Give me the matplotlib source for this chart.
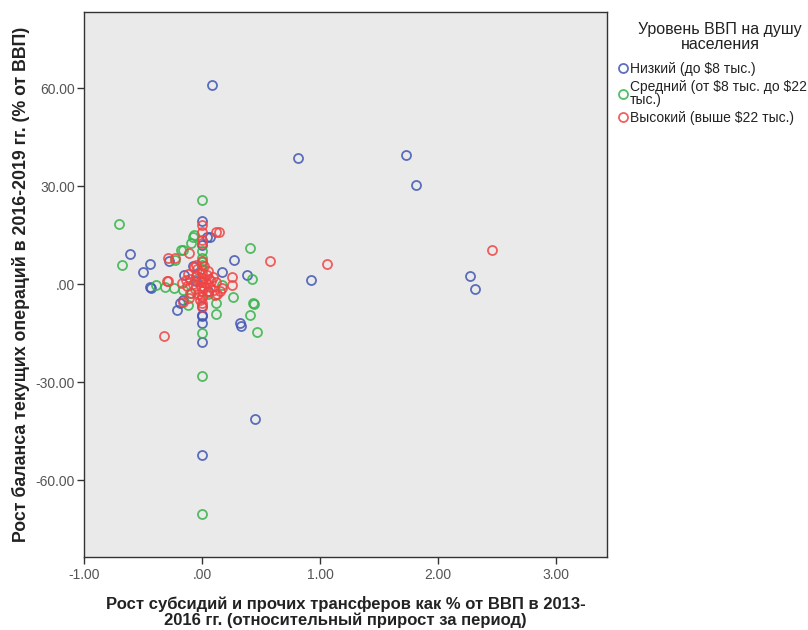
import matplotlib.pyplot as plt
from matplotlib.ticker import FuncFormatter, FixedLocator

plt.rcParams['font.family'] = ['Liberation Sans', 'DejaVu Sans']

# Data: (subsidy growth, current account balance growth)
low_x = [0.085, 0.81, 1.73, 1.81, 2.27, 2.31, 0.92, -0.61, -0.445, -0.50, -0.43, 0.27,
         0.0, 0.045, 0.17, 0.385, -0.28, -0.21, 0.33, 0.0, 0.0, 0.0, 0.45, 0.0,
         -0.15, -0.08, 0.0, -0.19, -0.16, 0.07, 0.0, 0.32, -0.44, 0.05, -0.05, 0.0]
low_y = [60.9, 38.7, 39.5, 30.2, 2.6, -1.5, 1.2, 9.1, 6.3, 3.6, -1.2, 7.4,
         19.3, 14.3, 3.6, 2.8, 7.0, -7.8, -12.7, -9.9, -12.0, -17.7, -41.4, -52.3,
         2.8, 5.6, -6.7, -5.8, -4.9, 14.5, 12.0, -12.0, -0.8, -2.0, 1.0, -9.5]

mid_x = [0.0, -0.70, -0.68, 0.41, 0.42, -0.08, -0.09, -0.18, 0.26, 0.12, 0.12, 0.44,
         0.41, 0.465, 0.0, 0.0, 0.0, -0.39, -0.31, -0.24, -0.16, -0.23, 0.0, 0.0,
         0.0, 0.0, -0.16, 0.17, -0.07, 0.0, -0.10, 0.43, -0.12, 0.05, -0.04]
mid_y = [25.8, 18.4, 6.0, 11.0, 1.7, 14.5, 12.5, 10.5, -4.0, -5.9, -9.0, -6.2,
         -9.4, -14.7, -15.1, -28.1, -70.5, -0.3, -1.0, -1.3, 10.4, 7.5, 8.0, 6.0,
         4.5, 10.0, -1.8, -0.3, 15.0, 6.7, -2.8, -5.8, -6.5, -3.0, 1.5]

high_x = [0.12, 0.58, 1.06, 2.46, -0.11, -0.29, -0.23, -0.32, -0.29, -0.17, 0.25, 0.25,
          0.15, 0.13, -0.16, 0.0, 0.0, 0.0, -0.30, 0.14, 0.0, -0.05, 0.17, 0.11,
          0.0, 0.0,
          -0.12, -0.10, -0.08, -0.06, -0.05, -0.04, -0.03, -0.02, -0.01, 0.0, 0.0, 0.0,
          0.0, 0.0, 0.01, 0.02, 0.03, 0.04, 0.05, 0.06, 0.07, 0.08, 0.10, -0.09, -0.13,
          -0.07, 0.02, -0.02, 0.05, 0.09, -0.11, 0.0, 0.0, 0.12, -0.14]
high_y = [15.9, 7.0, 6.3, 10.3, 9.5, 8.1, 8.1, -15.8, 1.0, 0.2, 2.2, -0.4,
          -2.0, -3.0, -5.4, 18.0, 16.0, 12.5, 0.9, 16.0, 13.5, 5.8, -1.3, -3.4,
          -5.9, -3.6,
          3.0, 1.5, 0.0, -1.5, 2.5, 4.5, -3.0, 1.0, -0.5, 0.5, 2.0, -2.0,
          3.5, -4.0, 1.2, -1.0, 0.3, 2.8, -2.5, 1.6, -0.8, 0.9, -1.8, -2.6, -0.7,
          5.2, 5.5, -5.0, 4.0, 2.2, -4.2, 7.0, -7.0, 0.5, 1.2]

labels = ['Низкий (до \\$8 тыс.)',
          'Средний (от \\$8 тыс. до \\$22\nтыс.)',
          'Высокий (выше \\$22 тыс.)']
colors = ['#4157b3', '#36b44a', '#f04444']

fig = plt.figure(figsize=(8.08, 6.3), dpi=100)
ax = fig.add_axes([0.104, 0.116, 0.647, 0.865])
ax.set_facecolor('#eaeaea')

for xs, ys, c, lab in zip([low_x, mid_x, high_x], [low_y, mid_y, high_y], colors, labels):
    ax.plot(xs, ys, 'o', ms=6.5, mfc='none', mec=c, mew=1.3, alpha=0.85,
            linestyle='none', label=lab)

ax.set_xlim(-1.0, 3.43)
ax.set_ylim(-83.5, 83.3)
ax.xaxis.set_major_locator(FixedLocator([-1, 0, 1, 2, 3]))
ax.yaxis.set_major_locator(FixedLocator([-60, -30, 0, 30, 60]))


def fmt(v, pos):
    s = f"{v:.2f}"
    if s.startswith("0"):
        s = s[1:]
    return s


ax.xaxis.set_major_formatter(FuncFormatter(fmt))
ax.yaxis.set_major_formatter(FuncFormatter(fmt))
ax.tick_params(direction='out', length=5, width=1, colors='#333333',
               labelcolor='#555555', labelsize=10)
ax.tick_params(axis='x', pad=3)
ax.tick_params(axis='y', pad=1.5)
for sp in ax.spines.values():
    sp.set_color('#333333')
    sp.set_linewidth(1.0)

ax.set_xlabel('Рост субсидий и прочих трансферов как % от ВВП в 2013-\n'
              '2016 гг. (относительный прирост за период)',
              fontsize=12, fontweight='bold', labelpad=10, linespacing=1.05,
              color='#222222')
ax.set_ylabel('Рост баланса текущих операций в 2016-2019 гг. (% от ВВП)',
              fontsize=12.8, fontweight='bold', labelpad=4, color='#222222')

fig.text(720 / 808, 1 - 22 / 630, 'Уровень ВВП на душу\nнаселения', ha='center',
         va='top', fontsize=11.5, linespacing=1.0, color='#222222')
leg = fig.legend(loc='upper left', bbox_to_anchor=(0.762, 1 - 62 / 630), frameon=False,
                 fontsize=10, handletextpad=0.0, handlelength=1.0,
                 labelspacing=0.3, borderaxespad=0.0, borderpad=0.0)
for t in leg.get_texts():
    t.set_linespacing(0.85)
    t.set_color('#222222')

fig.savefig('out.png', dpi=100)
